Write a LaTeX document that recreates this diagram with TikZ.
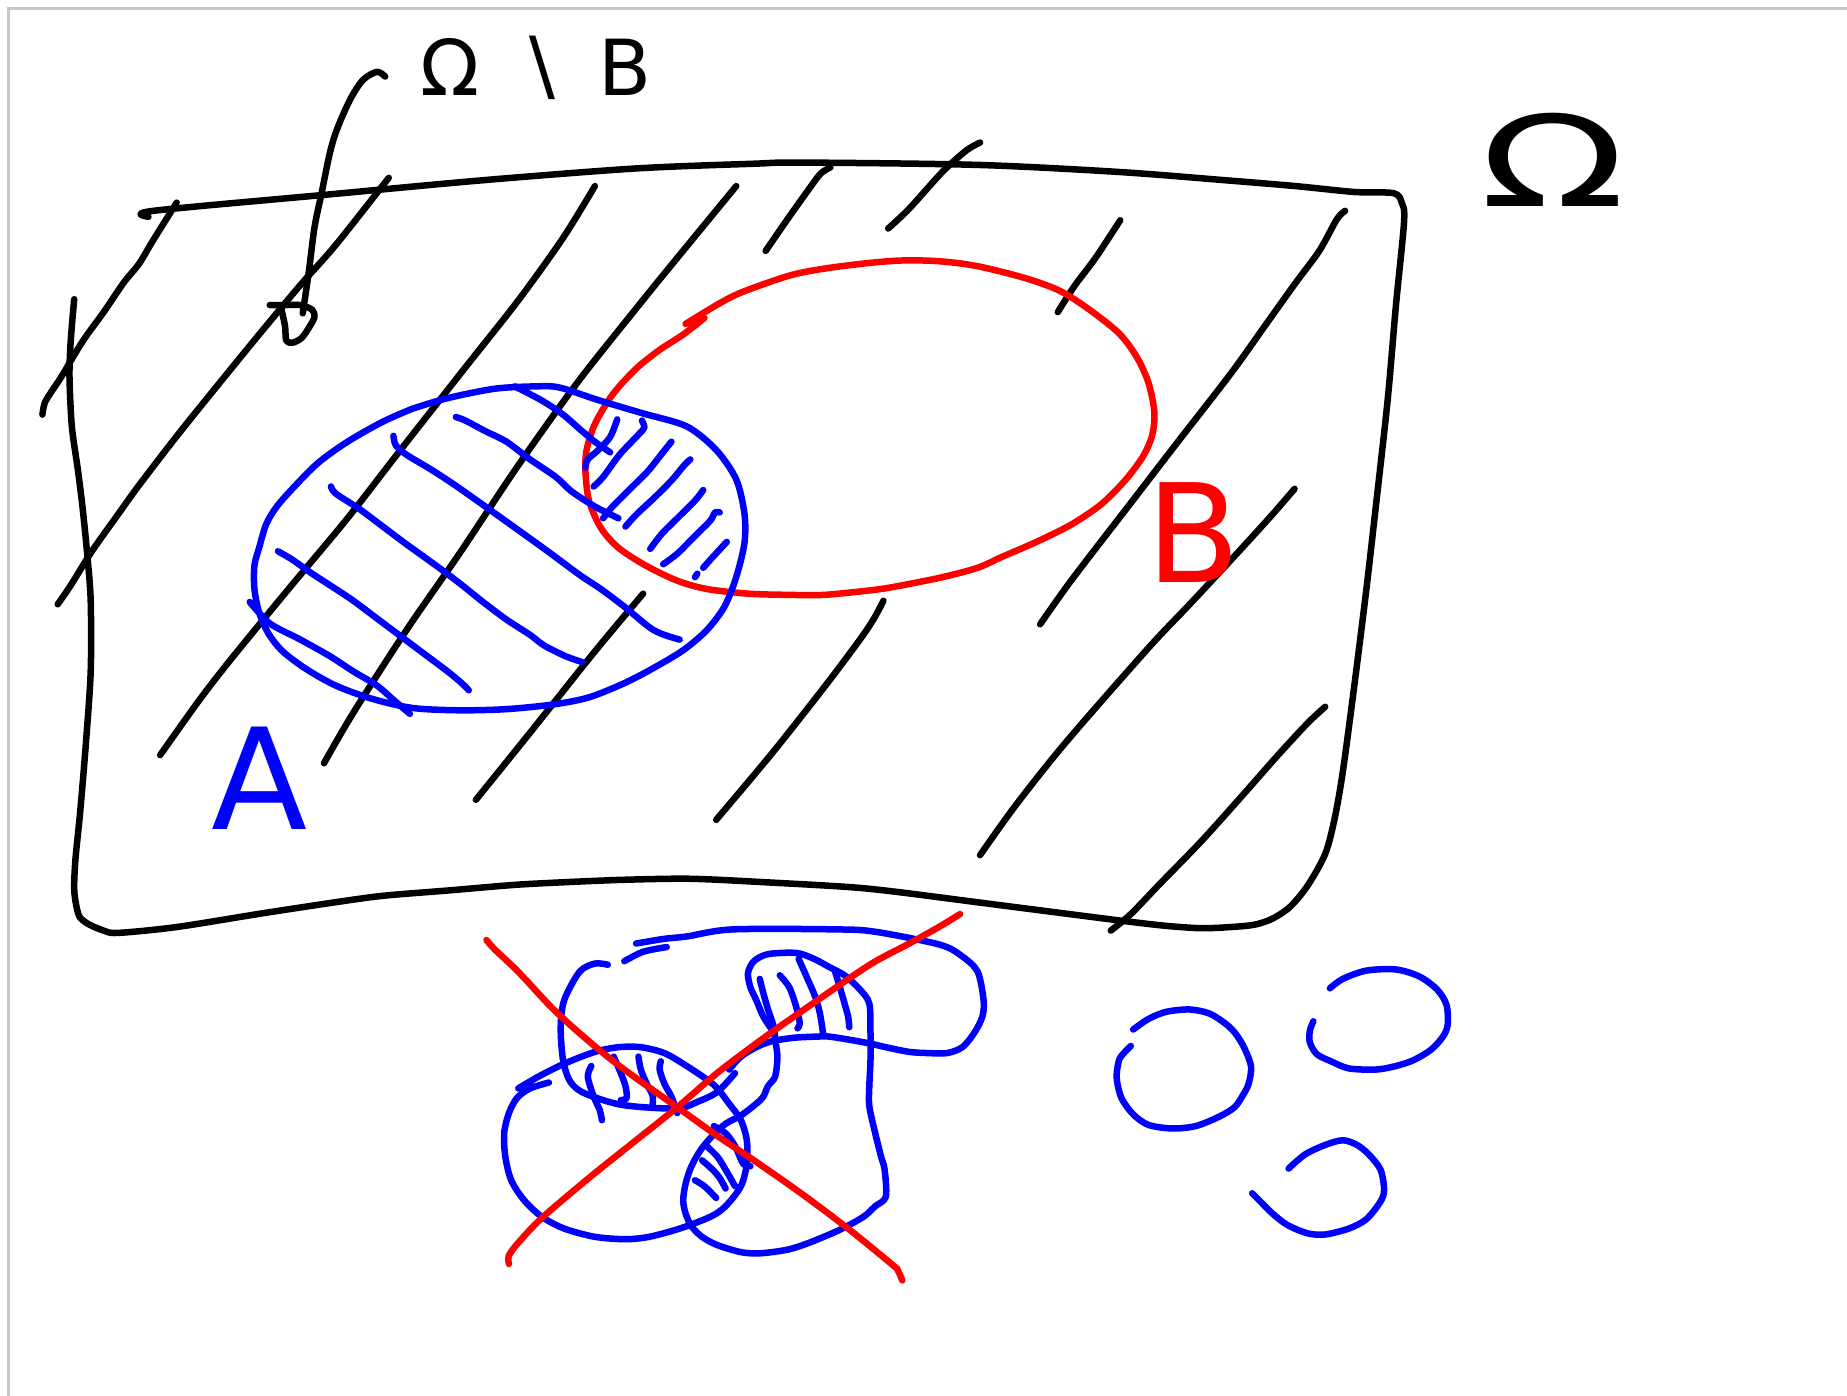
\documentclass[tikz,border=0pt]{standalone}
\usepackage{fontspec}
\newfontfamily\hand{DejaVu Sans}
\definecolor{frame}{RGB}{200,200,200}
\tikzset{
  ink/.style={line width=1.85pt, line cap=round, line join=round},
  blk/.style={ink, black},
  blu/.style={ink, blue},
  rd/.style={ink, red},
  sm/.style={smooth, tension=0.5},
  lbl/.style={inner sep=0pt, anchor=center, font=\hand},
}
\begin{document}
\begin{tikzpicture}[x=0.01178cm, y=-0.01178cm]
\useasboundingbox (0,0) rectangle (1568,1185);
\fill[white] (0,0) rectangle (1568,1185);
\draw[frame, line width=0.9pt] (7,1185) -- (7,7) -- (1568,7);

% ---------- big black region Omega ----------
\draw[blk] plot[sm] coordinates {(126,184) (130,179) (280,165) (410,153) (540,143) (640,139) (680,138) (830,140) (950,146) (1040,153) (1100,158) (1150,163) (1183,164) (1190,172) (1192,188) (1185,260) (1178,340) (1168,430) (1160,500) (1150,580) (1140,655) (1133,695) (1125,725) (1110,752) (1095,770) (1080,780) (1065,785) (1045,787) (1020,788) (990,786) (955,782) (900,775) (830,766) (760,757) (720,753) (650,749) (585,746) (525,747) (500,748) (440,751) (380,756) (330,760) (298,764) (225,775) (150,787) (100,792) (88,790) (76,785) (68,779) (65,770) (63,755) (64,730) (68,690) (73,630) (77,570) (77,510) (74,470) (70,430) (66,398) (61,362) (59,320) (60,290) (63,254)};

% black hatch lines
\draw[blk] plot[sm] coordinates {(36,352) (38,342) (44,332) (52,320) (70,290) (88,265) (105,240) (118,224) (130,204) (150,172)};
\draw[blk] plot[sm] coordinates {(49,513) (60,497) (78,468) (100,437) (118,412) (155,364) (215,290) (255,242) (285,208) (330,151)};
\draw[blk] plot[sm] coordinates {(136,641) (168,596) (195,561) (245,500) (295,440) (340,382) (395,312) (440,255) (478,202) (505,158)};
\draw[blk] plot[sm] coordinates {(275,648) (300,605) (345,535) (390,470) (440,395) (490,325) (540,262) (570,225) (625,158)};
\draw[blk] plot[sm] coordinates {(404,679) (450,622) (505,553) (546,504)};
\draw[blk] plot[sm] coordinates {(650,213) (670,184) (690,156) (697,147) (705,142)};
\draw[blk] plot[sm] coordinates {(754,194) (772,177) (800,146) (820,128) (832,121)};
\draw[blk] plot[sm] coordinates {(898,265) (912,243) (930,219) (951,187)};
\draw[blk] plot[sm] coordinates {(883,530) (910,492) (960,427) (1000,375) (1045,317) (1075,275) (1100,240) (1120,213) (1135,186) (1142,179)};
\draw[blk] plot[sm] coordinates {(608,696) (655,640) (700,583) (730,543) (742,525) (750,510)};
\draw[blk] plot[sm] coordinates {(832,726) (862,684) (905,630) (975,550) (1010,513) (1050,470) (1080,437) (1099,415)};
\draw[blk] plot[sm] coordinates {(943,790) (960,776) (985,750) (1020,714) (1055,675) (1085,641) (1110,614) (1125,600)};

% pointer stroke from the label
\draw[blk] plot[sm] coordinates {(327,65) (320,61) (308,68) (297,85) (286,110) (280,130) (273,164) (267,193) (262,232) (257,266)};
\draw[blk] plot[sm] coordinates {(229,259) (240,259) (255,259) (265,263) (267,269) (263,277) (256,287) (248,291) (243,289) (242,277) (239,263)};

% labels
\node[lbl, font=\hand\fontsize{22}{22}\selectfont] (lomb) at (455,58) {Ω\hspace{0.45em}∖\hspace{0.45em}B};
\node[lbl, font=\hand\fontsize{36}{36}\selectfont, xscale=1.5] (lom) at (1318,136) {Ω};
\node[lbl, font=\hand\fontsize{40}{40}\selectfont, text=blue] (la) at (220,661) {A};
\node[lbl, font=\hand\fontsize{39}{39}\selectfont, text=red] (lb) at (1013,452) {B};

% ---------- red set B ----------
\draw[rd] plot[sm] coordinates {(582,275) (610,258) (630,248) (670,234) (700,228) (740,223) (770,221) (800,222) (830,226) (870,236) (900,247) (925,263) (950,283) (965,303) (975,325) (980,350) (978,370) (970,388) (955,408) (935,428) (910,445) (880,460) (850,473) (830,482) (800,490) (760,498) (740,501) (700,505) (670,505) (635,504) (600,500) (575,493) (548,480) (525,465) (510,448) (500,425) (497,400) (498,382) (505,360) (520,335) (540,313) (560,297) (580,284) (598,270)};

% ---------- blue set A ----------
\draw[blu] plot[sm] coordinates {(350,347) (380,338) (420,330) (455,328) (475,329) (509,340) (546,351) (583,362) (608,382) (625,407) (632,436) (632,461) (625,490) (615,515) (600,535) (580,552) (555,567) (530,580) (500,592) (470,598) (430,602) (390,603) (350,601) (315,593) (285,582) (260,568) (240,553) (228,538) (220,520) (216,500) (216,480) (220,465) (226,445) (235,430) (250,413) (270,393) (295,375) (325,358) (350,347)};

% blue hatch in A
\draw[blu] plot[sm] coordinates {(437,328) (460,340) (478,352) (493,365) (505,375) (518,384)};
\draw[blu] plot[sm] coordinates {(387,354) (395,357) (412,366) (430,375) (450,390) (472,405) (485,417) (505,430) (525,440)};
\draw[blu] plot[sm] coordinates {(334,370) (336,378) (345,386) (365,398) (385,411) (412,430) (440,450) (465,468) (492,488) (510,500) (530,515) (555,535) (577,543)};
\draw[blu] plot[sm] coordinates {(281,413) (285,419) (305,432) (325,447) (345,462) (370,480) (390,495) (410,511) (430,526) (450,539) (462,548) (480,557) (494,562)};
\draw[blu] plot[sm] coordinates {(236,468) (248,475) (265,487) (285,500) (300,510) (320,525) (340,540) (360,555) (380,570) (392,580) (398,586)};
\draw[blu] plot[sm] coordinates {(212,511) (218,518) (230,530) (255,543) (280,557) (300,570) (320,582) (335,595) (348,606)};

% blue hatch in the intersection
\draw[blu] plot[sm] coordinates {(524,356) (518,371) (508,382) (499,390) (497,397)};
\draw[blu] plot[sm] coordinates {(545,357) (547,363) (542,369) (526,386) (512,405) (504,413)};
\draw[blu] plot[sm] coordinates {(512,440) (520,430) (535,415) (550,400) (562,385) (570,375)};
\draw[blu] plot[sm] coordinates {(531,447) (540,437) (555,423) (570,408) (580,396) (586,390)};
\draw[blu] plot[sm] coordinates {(552,466) (562,453) (575,440) (590,425) (597,416)};
\draw[blu] plot[sm] coordinates {(563,479) (575,470) (590,455) (603,442) (607,435) (611,435)};
\draw[blu] plot[sm] coordinates {(597,482) (605,473) (617,460)};
\draw[blu] (590,490) -- (592,487);

% ---------- bottom figure ----------
% upper-left piece
\draw[blu] plot[sm] coordinates {(516,819) (505,818) (492,825) (479,849) (476,872) (478,900) (484,918) (496,928) (528,938) (574,941) (593,935) (609,927) (624,911)};
\draw[blu] plot[sm] coordinates {(530,816) (546,808) (566,804)};
\draw[blu] plot[sm] coordinates {(540,801) (564,797) (583,795) (622,789) (710,789) (743,791) (798,802) (817,812) (830,825) (835,849) (834,863) (827,877) (817,889) (804,894) (788,894) (772,893) (752,889) (739,886) (723,883) (704,880) (694,880) (674,881) (655,884) (642,889) (629,897) (619,908)};
% big left loop
\draw[blu] plot[sm] coordinates {(440,924) (457,914) (479,903) (505,893) (525,889) (544,889) (564,894) (583,905) (606,921) (619,937) (629,951) (634,968) (634,988) (629,1007) (616,1024) (603,1033) (577,1043) (551,1050) (531,1052) (505,1050) (479,1043) (460,1033) (445,1019) (434,1002) (429,982) (428,962) (432,945) (439,932) (450,924) (466,919)};
% right shape
\draw[blu] plot[sm] coordinates {(658,883) (657,877) (648,863) (642,849) (637,838) (635,826) (640,816) (652,810) (676,809) (691,814) (704,821) (717,828) (730,840) (738,852) (739,877) (739,900) (738,922) (738,939) (743,962) (748,982) (751,993) (752,1016) (743,1024) (733,1033) (713,1044) (687,1055) (668,1061) (645,1064) (629,1063) (609,1057) (596,1050) (587,1041) (582,1030) (580,1019) (582,1005) (587,990) (595,976) (605,964) (616,954) (629,947) (642,937) (648,931) (652,922) (658,914) (660,897) (658,883)};
% hatches of the bottom figure
\draw[blu] plot[sm] coordinates {(502,905) (499,914) (504,931) (509,942) (511,951)};
\draw[blu] plot[sm] coordinates {(521,897) (527,911) (531,922) (532,932) (527,934)};
\draw[blu] plot[sm] coordinates {(542,897) (544,908) (549,920) (554,930) (554,938)};
\draw[blu] plot[sm] coordinates {(561,901) (560,908) (564,920) (570,931) (575,945)};
\draw[blu] plot[sm] coordinates {(645,831) (648,843) (652,857) (657,872) (658,883)};
\draw[blu] plot[sm] coordinates {(662,828) (670,838) (676,855) (679,869) (677,873)};
\draw[blu] plot[sm] coordinates {(678,814) (686,832) (692,846) (696,860) (699,879)};
\draw[blu] plot[sm] coordinates {(709,825) (713,838) (717,852) (720,863) (721,872)};
\draw[blu] plot[sm] coordinates {(606,956) (616,962) (624,973) (631,988) (637,990)};
\draw[blu] plot[sm] coordinates {(599,972) (609,982) (616,993) (624,1007)};
\draw[blu] plot[sm] coordinates {(596,985) (605,993) (611,1000) (616,1009)};
\draw[blu] plot[sm] coordinates {(590,1002) (598,1007) (608,1017)};
% red cross
\draw[rd] plot[sm] coordinates {(413,798) (420,806) (440,825) (470,857) (500,884) (530,908) (575,940) (610,965) (640,985) (680,1013) (720,1043) (758,1074) (762,1078) (766,1087)};
\draw[rd] plot[sm] coordinates {(432,1073) (432,1066) (440,1055) (460,1034) (500,1000) (540,968) (575,940) (610,910) (650,880) (700,845) (740,818) (770,802) (797,787) (815,776)};

% ---------- three small blue circles ----------
\draw[blu] plot[sm] coordinates {(962,874) (975,865) (990,859) (1010,857) (1028,861) (1045,873) (1055,887) (1062,905) (1060,920) (1055,930) (1048,940) (1035,948) (1015,956) (995,958) (975,955) (962,946) (952,932) (948,915) (950,900) (955,893) (960,888)};
\draw[blu] plot[sm] coordinates {(1129,839) (1140,831) (1160,824) (1185,823) (1205,829) (1220,840) (1228,853) (1229,870) (1225,880) (1215,891) (1200,900) (1185,905) (1168,908) (1145,907) (1130,901) (1118,895) (1112,885) (1112,875) (1115,867)};
\draw[blu] plot[sm] coordinates {(1094,992) (1108,980) (1125,972) (1140,968) (1152,972) (1162,980) (1172,993) (1175,1010) (1172,1020) (1160,1035) (1145,1043) (1125,1048) (1110,1047) (1093,1040) (1080,1030) (1070,1020) (1063,1013)};
\end{tikzpicture}
\end{document}
